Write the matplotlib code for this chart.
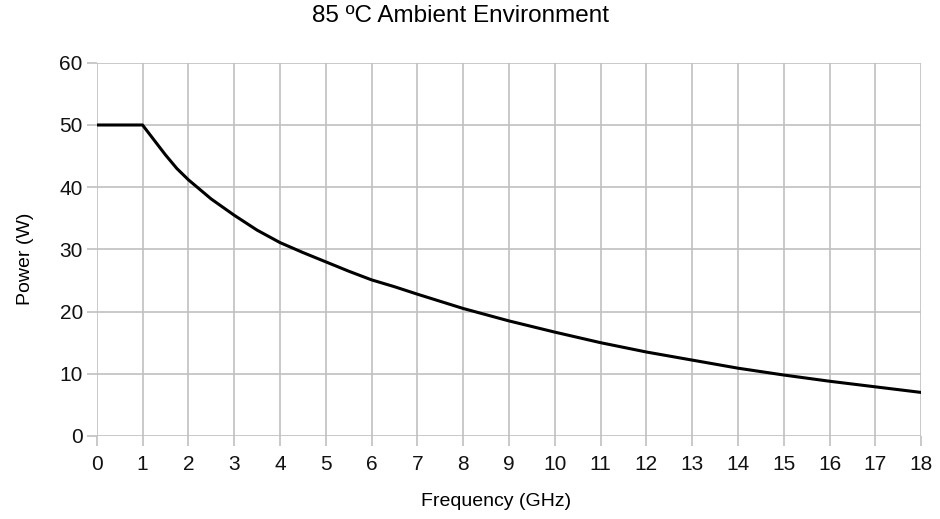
import numpy as np
import matplotlib.pyplot as plt

plt.rcParams['font.family'] = ['Liberation Sans', 'DejaVu Sans']

freq = [0, 0.5, 1, 1.25, 1.5, 1.75, 2, 2.5, 3, 3.5, 4, 4.5, 5, 5.5, 6, 6.5, 7,
        8, 9, 10, 11, 12, 13, 14, 15, 16, 17, 18]
power = [50, 50, 50, 47.6, 45.2, 43.0, 41.2, 38.1, 35.5, 33.1, 31.1, 29.5, 28.0,
         26.5, 25.1, 24.0, 22.8, 20.5, 18.5, 16.7, 15.0, 13.5, 12.2, 10.9, 9.8,
         8.8, 7.9, 7.0]

fig = plt.figure(figsize=(9.4, 5.19), dpi=100)
ax = fig.add_axes([0.1029, 0.160, 0.877, 0.719])

ax.plot(freq, power, color='black', linewidth=2.2, solid_joinstyle='round')

ax.set_xlim(0, 18)
ax.set_ylim(0, 60)
ax.set_xticks(np.arange(0, 19, 1))
ax.set_yticks(np.arange(0, 61, 10))
ax.grid(True, color='#c0c0c0', linewidth=1.2)
ax.set_axisbelow(True)
for s in ax.spines.values():
    s.set_visible(False)
ax.tick_params(axis='both', length=7, width=1.2, color='#c0c0c0', labelsize=15,
               labelcolor='#111111')
ax.tick_params(axis='x', pad=7)
ax.tick_params(axis='y', pad=3)

ax.set_xlabel('Frequency (GHz)', fontsize=14)
ax.xaxis.set_label_coords(0.485, -0.153)
ax.set_ylabel('Power (W)', fontsize=14)
ax.yaxis.set_label_coords(-0.076, 0.475)
fig.suptitle('85 ºC Ambient Environment', x=0.49, y=0.99, fontsize=17.5)

fig.savefig('out.png', dpi=100)
